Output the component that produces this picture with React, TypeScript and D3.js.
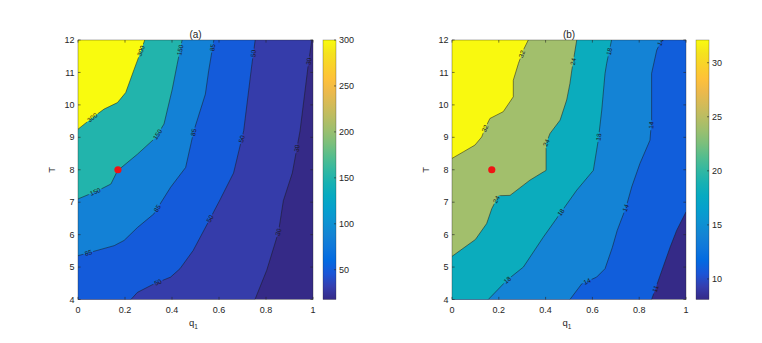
import { useMemo } from 'react';
import * as d3 from 'd3';

type Pt = [number, number];

// ---- panel (a): contour levels and their boundary lines as [q1, T] ----
const A_LEVELS = [30, 50, 85, 150, 300];
const A_C30: Pt[] = [[0.995, 12], [0.98, 11.25], [0.945, 9.2], [0.912, 7.9], [0.874, 7.05], [0.853, 6.08], [0.803, 4.9], [0.753, 4]];
const A_C50: Pt[] = [[0.754, 12], [0.74, 11.25], [0.705, 9.2], [0.662, 7.9], [0.604, 7.07], [0.562, 6.49], [0.49, 5.51], [0.434, 4.95], [0.394, 4.69], [0.323, 4.48], [0.253, 4.22], [0.225, 4]];
const A_C85: Pt[] = [[0.578, 12], [0.556, 11.05], [0.542, 10.33], [0.493, 9.2], [0.458, 8.07], [0.394, 7.46], [0.323, 6.64], [0.253, 6.22], [0.196, 5.82], [0.154, 5.66], [0.055, 5.46], [0, 5.35]];
const A_C150: Pt[] = [[0.443, 12], [0.422, 11.25], [0.401, 10.48], [0.366, 9.41], [0.33, 8.99], [0.253, 8.48], [0.168, 7.97], [0.14, 7.56], [0.083, 7.35], [0, 7.1]];
const A_C300: Pt[] = [[0.284, 12], [0.26, 11.51], [0.239, 11.1], [0.203, 10.38], [0.168, 10.07], [0.111, 9.87], [0.062, 9.61], [0, 9.25]];
// where the inline level labels sit
const A_L30: Pt[] = [[0.993, 11.33], [0.945, 8.64], [0.855, 6.07]];
const A_L50: Pt[] = [[0.749, 11.58], [0.7, 8.94], [0.572, 6.45], [0.342, 4.5]];
const A_L85: Pt[] = [[0.578, 11.76], [0.493, 9.15], [0.342, 6.79], [0.047, 5.35]];
const A_L150: Pt[] = [[0.457, 11.66], [0.336, 9.1], [0.076, 7.27]];
const A_L300: Pt[] = [[0.27, 11.66], [0.066, 9.56]];
const A_CLIM: [number, number] = [17.6, 300];
const A_CBAR_TICKS = [50, 100, 150, 200, 250, 300];

// ---- panel (b) ----
const B_LEVELS = [11, 14, 18, 24, 32];
const B_C11: Pt[] = [[1, 6.7], [0.96, 6.13], [0.932, 5.61], [0.853, 4]];
const B_C14: Pt[] = [[0.896, 12], [0.875, 11.69], [0.853, 10.97], [0.853, 9.53], [0.846, 8.91], [0.803, 8.19], [0.768, 7.47], [0.744, 6.85], [0.706, 6.13], [0.685, 5.6], [0.654, 4.95], [0.618, 4.69], [0.554, 4.48], [0.504, 4]];
const B_C18: Pt[] = [[0.682, 12], [0.661, 11.28], [0.654, 10.97], [0.64, 9.84], [0.625, 8.91], [0.604, 7.98], [0.533, 7.37], [0.462, 6.65], [0.39, 5.92], [0.305, 5.0], [0.234, 4.59], [0.155, 4]];
const B_C24: Pt[] = [[0.533, 12], [0.526, 11.69], [0.512, 11.07], [0.504, 10.66], [0.49, 10.15], [0.462, 9.53], [0.419, 9.12], [0.402, 8.81], [0.402, 7.98], [0.39, 7.93], [0.333, 7.68], [0.248, 7.21], [0.198, 7.2], [0.17, 6.8], [0.148, 6.34], [0.1, 5.85], [0, 5.33]];
const B_C32: Pt[] = [[0.326, 12], [0.305, 11.69], [0.284, 11.28], [0.262, 10.76], [0.262, 10.25], [0.219, 9.79], [0.162, 9.58], [0.141, 9.27], [0.127, 9.01], [0.098, 8.76], [0.048, 8.55], [0, 8.35]];
const B_L11: Pt[] = [[0.868, 4.33]];
const B_L14: Pt[] = [[0.9, 11.9], [0.853, 9.37], [0.739, 6.83], [0.582, 4.48]];
const B_L18: Pt[] = [[0.675, 11.64], [0.625, 9.01], [0.469, 6.67], [0.241, 4.56]];
const B_L24: Pt[] = [[0.521, 11.33], [0.402, 8.83], [0.191, 7.08]];
const B_L32: Pt[] = [[0.298, 11.57], [0.141, 9.27]];
const B_CLIM: [number, number] = [8.1, 32.1];
const B_CBAR_TICKS = [10, 15, 20, 25, 30];

const X_TICKS = [0, 0.2, 0.4, 0.6, 0.8, 1];
const Y_TICKS = [4, 5, 6, 7, 8, 9, 10, 11, 12];
const MARKER: Pt = [0.17, 8];

// parula, sampled every 0.05
const PARULA = [
  '#352a87', '#353eaf', '#1b55d7', '#036ae1', '#0f77db', '#1484d4', '#0d93d2', '#06a0cd',
  '#07aac1', '#18b1b2', '#33b8a1', '#54bd8e', '#7abf7c', '#9bbf6f', '#b8bd63', '#d3bb58',
  '#ecb94c', '#fec13a', '#fad12b', '#f5e31e', '#f9fb0e',
];
const parula = d3.piecewise(d3.interpolateRgb, PARULA);

const FONT = 'Liberation Sans, Arial, sans-serif';
const INK = '#262626';

// position along the plot frame, clockwise from the top-left corner
function perim([q, t]: Pt) {
  if (Math.abs(t - 12) < 1e-6) return q;
  if (Math.abs(q - 1) < 1e-6) return 1 + (12 - t) / 8;
  if (Math.abs(t - 4) < 1e-6) return 2 + (1 - q);
  return 3 + (t - 4) / 8;
}
const CORNERS: Pt[] = [[0, 12], [1, 12], [1, 4], [0, 4]];

// region above a level: the boundary closed round the frame on its high side
function closeRegion(line: Pt[]): Pt[] {
  const s0 = perim(line[line.length - 1]);
  let s1 = perim(line[0]);
  if (s1 <= s0) s1 += 4;
  const pts = [...line];
  for (let c = Math.ceil(s0 + 1e-9); c < s1; c++) pts.push(CORNERS[c % 4]);
  return pts;
}

interface PanelProps {
  id: string;
  title: string;
  x0: number;
  x1: number;
  levels: number[];
  lines: Pt[][];
  labels: Pt[][];
  clim: [number, number];
  cbarTicks: number[];
}

const TOP = 40;
const BOTTOM = 299.5;

function Panel({ id, title, x0, x1, levels, lines, labels, clim, cbarTicks }: PanelProps) {
  const x = d3.scaleLinear().domain([0, 1]).range([x0, x1]);
  const y = d3.scaleLinear().domain([4, 12]).range([BOTTOM, TOP]);
  const toPx = (p: Pt): Pt => [x(p[0]), y(p[1])];
  const line = d3.line<Pt>().x(d => x(d[0])).y(d => y(d[1]));
  const fillColor = (v: number) => parula(Math.max(0, Math.min(1, (v - clim[0]) / (clim[1] - clim[0]))));

  // label placement snapped onto its line, rotated along it
  const placed = useMemo(() => {
    const out: { px: Pt; angle: number; text: string }[] = [];
    levels.forEach((lv, i) => {
      const pts = lines[i].map(toPx);
      labels[i].forEach(lp => {
        const p = toPx(lp);
        let best = { d: Infinity, pt: p, ang: 0 };
        for (let k = 0; k < pts.length - 1; k++) {
          const [ax, ay] = pts[k];
          const [bx, by] = pts[k + 1];
          const dx = bx - ax, dy = by - ay;
          const len2 = dx * dx + dy * dy || 1;
          const u = Math.max(0, Math.min(1, ((p[0] - ax) * dx + (p[1] - ay) * dy) / len2));
          const cx = ax + u * dx, cy = ay + u * dy;
          const d = Math.hypot(p[0] - cx, p[1] - cy);
          if (d < best.d) {
            let ang = (Math.atan2(dy, dx) * 180) / Math.PI;
            if (ang > 90) ang -= 180;
            if (ang <= -90) ang += 180;
            best = { d, pt: [cx, cy], ang };
          }
        }
        out.push({ px: best.pt, angle: best.ang, text: String(lv) });
      });
    });
    return out;
  }, [x0, x1]);

  const cbX = x1 + 10;
  const cbW = 13;
  const cy = d3.scaleLinear().domain(clim).range([BOTTOM, TOP]);
  const gradStops = d3.range(0, 1.0001, 0.05);
  const tick = 2.6;

  return (
    <g>
      <defs>
        <clipPath id={`clip-${id}`}>
          <rect x={x0} y={TOP} width={x1 - x0} height={BOTTOM - TOP} />
        </clipPath>
        <mask id={`gap-${id}`} maskUnits="userSpaceOnUse" x={0} y={0} width={762} height={343}>
          <rect x={0} y={0} width={762} height={343} fill="white" />
          {placed.map((l, i) => (
            <rect key={i} x={-l.text.length * 2 - 1} y={-2.8} width={l.text.length * 4 + 2} height={5.6}
              fill="black" transform={`translate(${l.px[0]},${l.px[1]}) rotate(${l.angle})`} />
          ))}
        </mask>
        <linearGradient id={`grad-${id}`} x1="0" y1="1" x2="0" y2="0">
          {gradStops.map(t => <stop key={t} offset={t} stopColor={parula(t)} />)}
        </linearGradient>
      </defs>

      {/* filled contour bands, lowest first */}
      <g clipPath={`url(#clip-${id})`}>
        <rect x={x0} y={TOP} width={x1 - x0} height={BOTTOM - TOP} fill={fillColor(clim[0])} />
        {levels.map((lv, i) => (
          <path key={lv} d={line(closeRegion(lines[i]))! + 'Z'} fill={fillColor(lv)} />
        ))}
        <g mask={`url(#gap-${id})`}>
          {lines.map((ln, i) => (
            <path key={i} d={line(ln)!} fill="none" stroke="#1a1a1a" strokeWidth={0.6} strokeOpacity={0.85} />
          ))}
        </g>
        {placed.map((l, i) => (
          <text key={i} transform={`translate(${l.px[0]},${l.px[1]}) rotate(${l.angle})`}
            textAnchor="middle" dy="0.35em" fontSize={6.5} fontFamily={FONT} fill="#1a1a1a">{l.text}</text>
        ))}
        <circle cx={x(MARKER[0])} cy={y(MARKER[1])} r={3.6} fill="#f01414" />
      </g>

      {/* axes frame and ticks */}
      <rect x={x0} y={TOP} width={x1 - x0} height={BOTTOM - TOP} fill="none" stroke={INK} strokeWidth={0.5} strokeOpacity={0.7} />
      {X_TICKS.map(t => (
        <g key={t}>
          <line x1={x(t)} x2={x(t)} y1={BOTTOM} y2={BOTTOM - tick} stroke={INK} strokeWidth={0.6} />
          <line x1={x(t)} x2={x(t)} y1={TOP} y2={TOP + tick} stroke={INK} strokeWidth={0.6} />
          <text x={x(t)} y={312.5} textAnchor="middle" fontSize={9} fontFamily={FONT} fill={INK}>{t}</text>
        </g>
      ))}
      {Y_TICKS.map(t => (
        <g key={t}>
          <line x1={x0} x2={x0 + tick} y1={y(t)} y2={y(t)} stroke={INK} strokeWidth={0.6} />
          <line x1={x1} x2={x1 - tick} y1={y(t)} y2={y(t)} stroke={INK} strokeWidth={0.6} />
          <text x={x0 - 3.5} y={y(t)} dy="0.35em" textAnchor="end" fontSize={9} fontFamily={FONT} fill={INK}>{t}</text>
        </g>
      ))}
      <text x={(x0 + x1) / 2} y={38} textAnchor="middle" fontSize={10} fontFamily={FONT} fill={INK}>{title}</text>
      <text x={(x0 + x1) / 2 - 2} y={326} textAnchor="middle" fontSize={9.5} fontFamily={FONT} fill={INK}>
        q<tspan fontSize={6.5} dy={2.5}>1</tspan>
      </text>
      <text transform={`translate(${x0 - 26},${(TOP + BOTTOM) / 2}) rotate(-90)`} textAnchor="middle" dy="0.35em"
        fontSize={9.5} fontFamily={FONT} fill={INK}>T</text>

      {/* colorbar */}
      <rect x={cbX} y={TOP} width={cbW} height={BOTTOM - TOP} fill={`url(#grad-${id})`} stroke={INK} strokeWidth={0.5} strokeOpacity={0.6} />
      {cbarTicks.map(t => (
        <g key={t}>
          <line x1={cbX + cbW} x2={cbX + cbW - 2} y1={cy(t)} y2={cy(t)} stroke={INK} strokeWidth={0.6} />
          <text x={cbX + cbW + 3} y={cy(t)} dy="0.35em" fontSize={9} fontFamily={FONT} fill={INK}>{t}</text>
        </g>
      ))}
    </g>
  );
}

export default function App() {
  return (
    <div style={{ position: 'absolute', left: 0, top: 0 }}>
      <svg width={762} height={343} style={{ display: 'block', background: '#fff' }}>
        <Panel id="a" title="(a)" x0={78} x1={313} levels={A_LEVELS}
          lines={[A_C30, A_C50, A_C85, A_C150, A_C300]}
          labels={[A_L30, A_L50, A_L85, A_L150, A_L300]}
          clim={A_CLIM} cbarTicks={A_CBAR_TICKS} />
        <Panel id="b" title="(b)" x0={452} x1={686} levels={B_LEVELS}
          lines={[B_C11, B_C14, B_C18, B_C24, B_C32]}
          labels={[B_L11, B_L14, B_L18, B_L24, B_L32]}
          clim={B_CLIM} cbarTicks={B_CBAR_TICKS} />
      </svg>
    </div>
  );
}
